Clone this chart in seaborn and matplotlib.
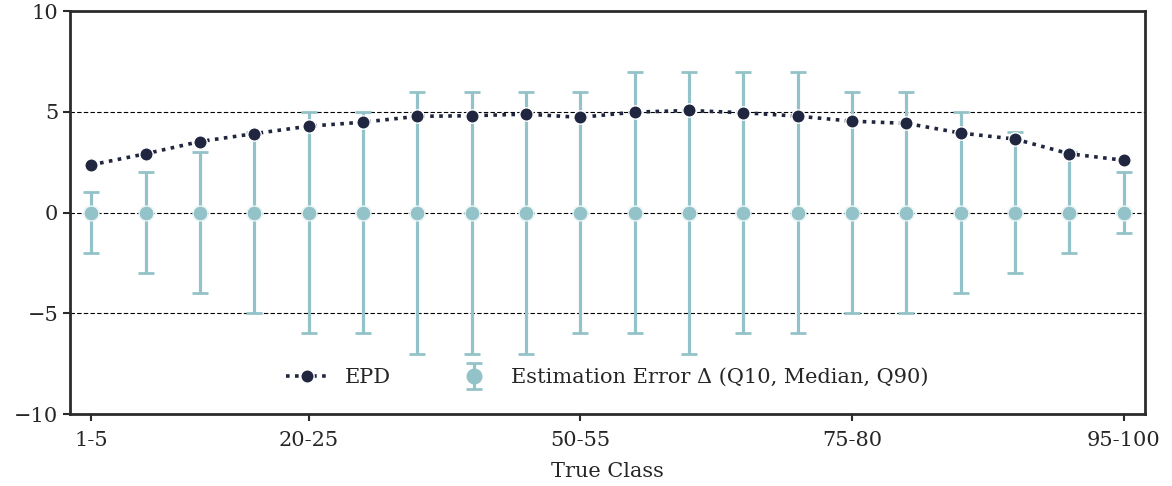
import numpy as np
import pandas as pd
import matplotlib
matplotlib.use("Agg")
import matplotlib.pyplot as plt
import seaborn as sns
from matplotlib.lines import Line2D
from matplotlib.legend_handler import HandlerErrorbar

# Per-class values
class_index = list(range(20))
epd = [2.37, 2.92, 3.53, 3.92, 4.29, 4.49, 4.78, 4.81, 4.89, 4.73,
       4.99, 5.07, 4.96, 4.79, 4.54, 4.43, 3.95, 3.65, 2.92, 2.60]
err_median = [0] * 20
err_q10 = [-2, -3, -4, -5, -6, -6, -7, -7, -7, -6,
           -6, -7, -6, -6, -5, -5, -4, -3, -2, -1]
err_q90 = [1, 2, 3, 4, 5, 5, 6, 6, 6, 6,
           7, 7, 7, 7, 6, 6, 5, 4, 3, 2]
tick_positions = [0, 4, 9, 14, 19]
tick_labels = ["1-5", "20-25", "50-55", "75-80", "95-100"]

NAVY = "#212640"
TEAL = "#93c3c8"
FS = 15

sns.set_theme(style="ticks")
plt.rcParams["font.family"] = ["DejaVu Serif"]
plt.rcParams["axes.unicode_minus"] = True

df = pd.DataFrame({"cls": class_index, "epd": epd, "median": err_median,
                   "q10": err_q10, "q90": err_q90})

fig = plt.figure(figsize=(11.72, 4.86), dpi=100)
ax = fig.add_axes([0.0597, 0.148, 0.9173, 0.829])

# reference grid lines
for yv in (-5, 0, 5):
    ax.axhline(yv, color="black", lw=0.8, ls=(0, (4, 2)), zorder=1)

# quantile error bars around the median
med = df["median"].to_numpy()
yerr = np.vstack([med - df["q10"].to_numpy(), df["q90"].to_numpy() - med])
h_err = ax.errorbar(df["cls"], med, yerr=yerr, fmt="o", color=TEAL,
                    ecolor=TEAL, markersize=10.5, markeredgecolor=TEAL,
                    elinewidth=2.3, capsize=5.5, capthick=2.0, zorder=2)
sns.scatterplot(data=df, x="cls", y="median", ax=ax, color=TEAL, s=115,
                edgecolor="white", linewidth=0.8, zorder=3, legend=False)

# EPD curve
sns.lineplot(data=df, x="cls", y="epd", ax=ax, color=NAVY, lw=2.6,
             linestyle=(0, (1, 1.5)), marker="o", markersize=9.6,
             markeredgecolor="white", markeredgewidth=1.0, zorder=4,
             legend=False)

ax.set_xlim(-0.39, 19.39)
ax.set_ylim(-10, 10)
ax.set_yticks([-10, -5, 0, 5, 10])
ax.set_xticks(tick_positions)
ax.set_xticklabels(tick_labels)
ax.set_xlabel("True Class", fontsize=FS, labelpad=9)
ax.set_ylabel("")
ax.tick_params(axis="both", labelsize=FS, length=5, width=1.5,
               direction="out", color="#2b2b2b")
ax.tick_params(axis="x", pad=7)

for s in ax.spines.values():
    s.set_visible(True)
    s.set_linewidth(2.0)
    s.set_color("#2b2b2b")

# legend
h_epd = Line2D([], [], color=NAVY, lw=2.6, linestyle=(0, (1, 1.5)),
               marker="o", markersize=9.6, markeredgecolor="white",
               markeredgewidth=1.0)
ax.legend([h_epd, h_err],
          ["EPD", "Estimation Error \u0394 (Q10, Median, Q90)"],
          handler_map={type(h_err): HandlerErrorbar(yerr_size=0.62)},
          loc="lower center", bbox_to_anchor=(0.5, 0.02), ncol=2,
          frameon=False, fontsize=FS, columnspacing=3.0, handlelength=2.0)

fig.savefig("out.png", dpi=100)
